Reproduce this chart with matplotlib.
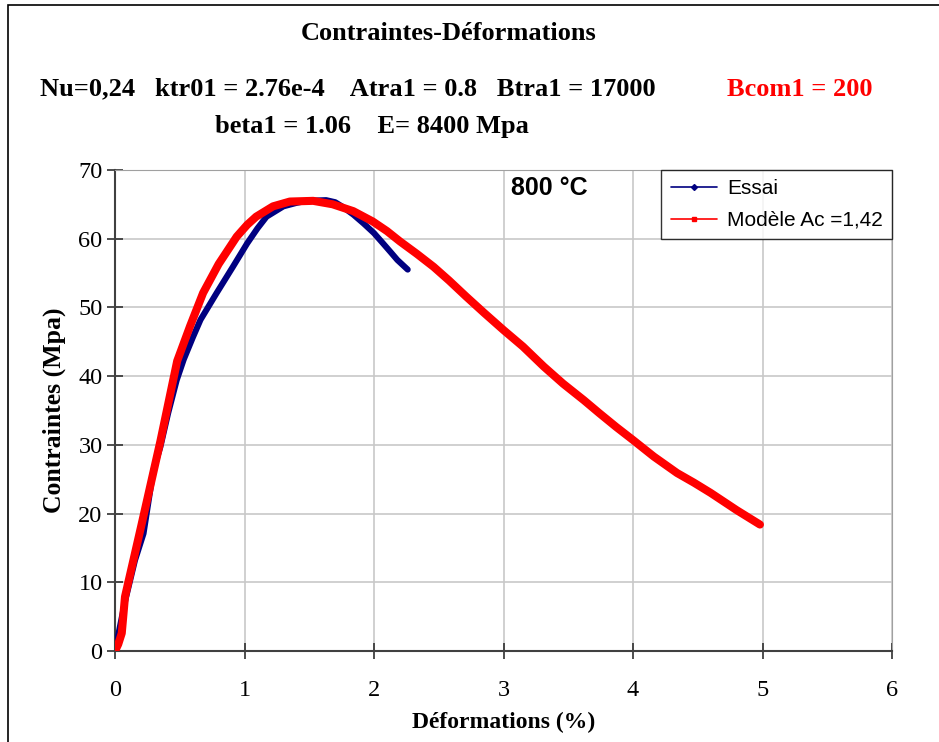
import matplotlib
matplotlib.use("Agg")
import matplotlib.pyplot as plt
from matplotlib.patches import Rectangle

essai_x = [0.0, 0.077, 0.154, 0.22, 0.296, 0.35, 0.41, 0.476, 0.53, 0.60, 0.66, 0.785,
           0.91, 1.02, 1.10, 1.17, 1.30, 1.40, 1.48, 1.63, 1.70, 1.76, 1.84, 1.92,
           2.0, 2.07, 2.13, 2.18, 2.26]
essai_y = [0.0, 7.2, 13.2, 17.1, 26.3, 29.7, 34.6, 39.4, 42.4, 45.6, 48.2, 52.1,
           55.9, 59.3, 61.5, 63.2, 64.7, 65.2, 65.5, 65.6, 65.3, 64.6, 63.5, 62.2,
           60.8, 59.3, 58.0, 56.9, 55.5]

# Modele Ac = 1,42
model_x = [0.0, 0.025, 0.052, 0.077, 0.2, 0.35, 0.48, 0.58, 0.68, 0.80, 0.94, 1.02,
           1.09, 1.22, 1.35, 1.53, 1.68, 1.84, 1.99, 2.10, 2.20, 2.33, 2.46, 2.58,
           2.71, 2.85, 3.0, 3.15, 3.31, 3.46, 3.62, 3.74, 3.87, 4.0, 4.16, 4.34,
           4.47, 4.6, 4.8, 4.98]
model_y = [0.0, 1.0, 2.6, 7.9, 18.0, 30.5, 42.2, 47.3, 52.1, 56.3, 60.3, 62.0,
           63.2, 64.7, 65.4, 65.5, 65.0, 64.0, 62.5, 61.1, 59.6, 57.8, 55.9, 53.9,
           51.6, 49.2, 46.7, 44.3, 41.4, 38.9, 36.5, 34.6, 32.6, 30.7, 28.3, 25.9,
           24.5, 23.0, 20.5, 18.4]

x_ticks = [0, 1, 2, 3, 4, 5, 6]
y_ticks = [0, 10, 20, 30, 40, 50, 60, 70]

serif = "Liberation Serif"
sans = "Liberation Sans"

fig = plt.figure(figsize=(9.39, 7.42), dpi=100)
ax = fig.add_axes([0.1225, 0.1226, 0.8275, 0.6484])

ax.plot(essai_x, essai_y, color="#000080", lw=4.4, solid_capstyle="round",
        solid_joinstyle="round", marker="D", ms=2, markevery=[1], label="Essai", zorder=3)
ax.plot(model_x, model_y, color="#ff0000", lw=5.8, solid_capstyle="round",
        solid_joinstyle="round", marker="s", ms=2, markevery=[1],
        label="Modèle Ac =1,42", zorder=4)

ax.set_xlim(0, 6)
ax.set_ylim(0, 70)
ax.set_xticks(x_ticks)
ax.set_yticks(y_ticks)
ax.grid(True, color="#c8c8c8", lw=1.2)
ax.set_axisbelow(True)
for s in ["top", "right"]:
    ax.spines[s].set_color("#a0a0a0")
for s in ["left", "bottom"]:
    ax.spines[s].set_color("#404040")
    ax.spines[s].set_linewidth(1.5)
ax.tick_params(direction="inout", length=12, width=1.2, color="#303030",
               labelsize=17.5)
ax.tick_params(axis="x", pad=15)
ax.tick_params(axis="y", pad=3)
for lab in ax.get_xticklabels() + ax.get_yticklabels():
    lab.set_fontfamily(serif)

ax.set_xlabel("Déformations (%)", fontfamily=serif, fontweight="bold", fontsize=17, labelpad=8)
ax.set_ylabel("Contraintes (Mpa)", fontfamily=serif, fontweight="bold", fontsize=18.5, labelpad=9)

leg = ax.legend(loc="upper right", bbox_to_anchor=(1.0, 1.0), borderaxespad=0,
                prop={"family": sans, "size": 15}, frameon=True, fancybox=False,
                handlelength=2.2, borderpad=0.45, labelspacing=0.6, handletextpad=0.5)
leg.get_frame().set_edgecolor("black")
leg.get_frame().set_linewidth(1.0)
for h in leg.legend_handles:
    h.set_linewidth(1.2)
    h.set_markersize(3)

ax.text(3.35, 67.4, "800 °C", fontfamily=sans, fontweight="bold", fontsize=18,
        ha="center", va="center")

# header texts
fig.text(0.478, 0.955, "Contraintes-Déformations", fontfamily=serif, fontweight="bold",
         fontsize=19, ha="center", va="center")
fig.text(0.043, 0.880,
         "Nu=0,24   ktr01 = 2.76e-4    Atra1 = 0.8   Btra1 = 17000",
         fontfamily=serif, fontweight="bold", fontsize=19, ha="left", va="center")
fig.text(0.774, 0.880, "Bcom1 = 200", fontfamily=serif, fontweight="bold",
         fontsize=19, color="#ff0000", ha="left", va="center")
fig.text(0.229, 0.830, "beta1 = 1.06    E= 8400 Mpa", fontfamily=serif,
         fontweight="bold", fontsize=19, ha="left", va="center")

# outer frame
fig.patches.append(Rectangle((0.009, -0.01), 0.995, 1.003, transform=fig.transFigure,
                             fill=False, edgecolor="black", lw=1.2))

fig.savefig("out.png", dpi=100)
